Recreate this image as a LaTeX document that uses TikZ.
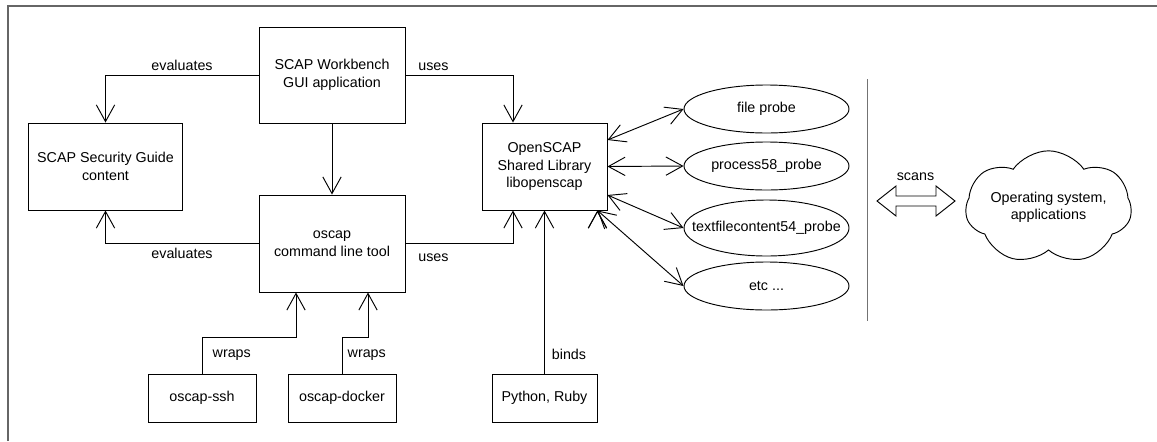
\documentclass[tikz,border=0pt]{standalone}
\usepackage{fontspec}
\setmainfont{Liberation Sans}
\usetikzlibrary{
arrows.meta,
positioning,
shapes.geometric,
shapes.symbols
}

\begin{document}
\begin{tikzpicture}[
    x=0.03cm, y=-0.03cm,
    line width=0.8pt,
    >={Straight Barb[length=0.5cm,width=0.55cm]},
    every node/.style={font=\fontsize{12.2}{15}\selectfont, align=center},
    box/.style={draw, rectangle, inner sep=0pt},
    probe/.style={draw, ellipse, inner sep=0pt, minimum width=4.95cm, minimum height=1.44cm},
    frame/.style={draw=black!60, line width=1.2pt}]
  \useasboundingbox (0,0) rectangle (1157,441);
  \draw[frame] (8,441) -- (8,6) -- (1157,6);
  \draw[draw=black!55] (867,79) -- (867,321);

  \node[box, minimum width=4.38cm, minimum height=2.88cm] (GUI) at (332,75) {SCAP Workbench\\GUI application};
  \node[box, minimum width=4.62cm, minimum height=2.61cm] (SSG) at (105.5,166.5) {SCAP Security Guide\\content};
  \node[box, minimum width=4.38cm, minimum height=2.91cm] (OSC) at (332,243.5) {oscap\\command line tool};
  \node[box, minimum width=3.75cm, minimum height=2.61cm] (LIB) at (544.5,166.5) {OpenSCAP\\Shared Library\\libopenscap};
  \node[box, minimum width=3.24cm, minimum height=1.44cm] (SSH) at (202,398) {oscap-ssh};
  \node[box, minimum width=3.24cm, minimum height=1.44cm] (DCK) at (342,398) {oscap-docker};
  \node[box, minimum width=3.15cm, minimum height=1.44cm] (PY) at (544.5,398) {Python, Ruby};

  \node[probe] (P1) at (766.5,109) {\makebox[0pt]{file probe}};
  \node[probe] (P2) at (766.5,166) {\makebox[0pt]{process58\_probe}};
  \node[probe, minimum height=1.68cm] (P3) at (766.5,228) {\makebox[0pt]{textfilecontent54\_probe}};
  \node[probe] (P4) at (766.5,286) {\makebox[0pt]{etc ...}};

  % scanned system
  \node (SC) at (915.5,177) {scans};
  \draw (877,201) -- (896,186) -- (896,196) -- (936,196) -- (936,186) -- (955,201)
     -- (936,216) -- (936,206) -- (896,206) -- (896,216) -- cycle;
  \node[draw, cloud, cloud puffs=7, cloud puff arc=110, cloud ignores aspect, inner sep=0pt,
        minimum width=4.98cm, minimum height=3.4cm,
        label={[align=center]center:{Operating system,\\applications}}] (OS) at (1048.5,207.5) {};

  \draw[->] (GUI.west) -| (SSG.north) node[pos=0.25, above] {evaluates};
  \draw[->] (OSC.west) -| (SSG.south) node[pos=0.25, below] {evaluates};
  \draw[->] (GUI) -- (OSC);
  \draw[->] (GUI.east) -| ([xshift=-0.945cm]LIB.north) node[pos=0.13, above] {uses};
  \draw[->] (OSC.east) -| ([xshift=-0.945cm]LIB.south) node[pos=0.13, below=0.17cm] {uses};
  \draw[->] (SSH.north) -- ++(0,-36) node[midway, right=0.19cm] {wraps} -| ([xshift=-1.08cm]OSC.south);
  \draw[->] (DCK.north) -- ++(0,-36) node[midway, right=0.04cm] {wraps} -| ([xshift=1.08cm]OSC.south);
  \draw[->] (PY) -- (LIB) node[pos=0.12, right=0.09cm] {binds};
  \draw[<->]
      ([yshift=0.795cm]LIB.east) edge (P1.west)
      (LIB.east) edge (P2.west)
      ([yshift=-0.855cm]LIB.east) edge (P3.west)
      ([xshift=-0.3cm]LIB.south east) edge (P4.west);
\end{tikzpicture}
\end{document}
